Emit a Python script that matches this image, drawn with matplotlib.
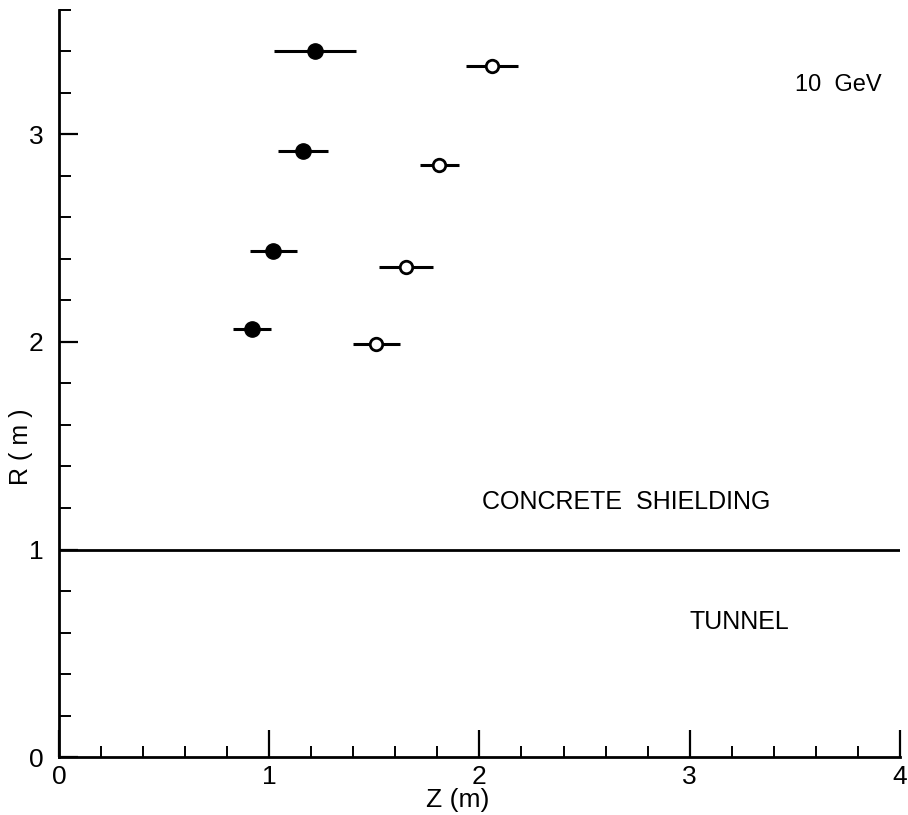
import matplotlib
matplotlib.use("Agg")
import matplotlib.pyplot as plt
from matplotlib.ticker import MultipleLocator

plt.rcParams['font.family'] = ['Liberation Sans', 'DejaVu Sans']

# filled circles
z_filled = [1.22, 1.16, 1.02, 0.92]
r_filled = [3.40, 2.92, 2.44, 2.06]
zerr_filled = [0.195, 0.12, 0.11, 0.09]
# open circles
z_open = [2.06, 1.81, 1.65, 1.51]
r_open = [3.33, 2.85, 2.36, 1.99]
zerr_open = [0.125, 0.095, 0.13, 0.11]

x_ticks = [0, 1, 2, 3, 4]
y_ticks = [0, 1, 2, 3]

fig = plt.figure(figsize=(9.08, 8.15), dpi=100)
ax = fig.add_axes([0.065, 0.071, 0.926, 0.917])

ax.errorbar(z_filled, r_filled, xerr=zerr_filled, fmt='o', color='black',
            markersize=11, elinewidth=2.2, capsize=0)
ax.errorbar(z_open, r_open, xerr=zerr_open, fmt='o', color='black',
            markerfacecolor='white', markeredgecolor='black', markeredgewidth=2,
            markersize=9, elinewidth=2.2, capsize=0)

ax.axhline(1.0, color='black', lw=2)

ax.set_xlim(0, 4)
ax.set_ylim(0, 3.6)
ax.set_xticks(x_ticks)
ax.set_yticks(y_ticks)
ax.xaxis.set_minor_locator(MultipleLocator(0.2))
ax.yaxis.set_minor_locator(MultipleLocator(0.2))

for s in ['top', 'right']:
    ax.spines[s].set_visible(False)
for s in ['left', 'bottom']:
    ax.spines[s].set_linewidth(2)

ax.tick_params(axis='x', which='major', direction='in', length=19.5, width=1.6, labelsize=19, pad=6)
ax.tick_params(axis='x', which='minor', direction='in', length=8, width=1.4)
ax.tick_params(axis='y', which='major', direction='in', length=14, width=1.6, labelsize=19, pad=11)
ax.tick_params(axis='y', which='minor', direction='in', length=8.5, width=1.4)

ax.set_xlabel('Z (m)', fontsize=19)
ax.set_ylabel('R ( m )', fontsize=18)
ax.xaxis.set_label_coords(0.4745, -0.0415)
ax.yaxis.set_label_coords(-0.031, 0.415)

ax.text(3.50, 3.24, '10  GeV', fontsize=17, va='center', ha='left')
ax.text(2.01, 1.23, 'CONCRETE  SHIELDING', fontsize=18, va='center', ha='left')
ax.text(3.0, 0.65, 'TUNNEL', fontsize=18, va='center', ha='left')

fig.savefig('out.png', dpi=100)
